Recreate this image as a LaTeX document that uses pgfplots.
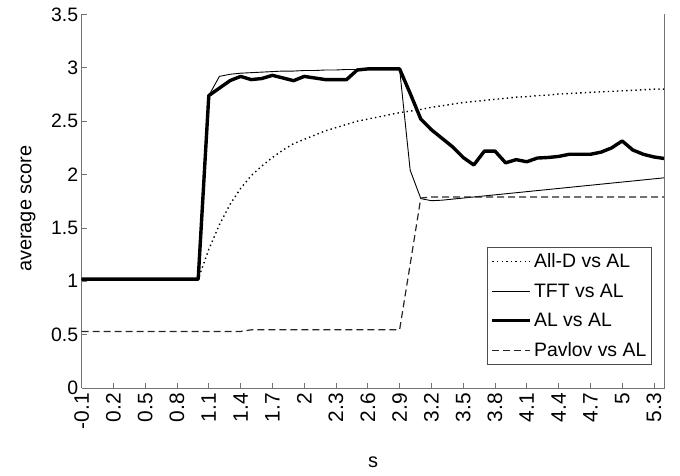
\documentclass[border=0pt]{standalone}
\usepackage{fontspec}
\setmainfont{Liberation Sans}
\usepackage{pgfplots}
\pgfplotsset{compat=1.18}

% average score against s (steps of 0.1)
\pgfplotstableread{
s v
-0.1 1.02
0.0 1.02
0.1 1.02
0.2 1.02
0.3 1.02
0.4 1.02
0.5 1.02
0.6 1.02
0.7 1.02
0.8 1.02
0.9 1.02
1.0 1.02
1.1 1.30
1.2 1.53
1.3 1.72
1.4 1.87
1.5 1.99
1.6 2.08
1.7 2.16
1.8 2.23
1.9 2.29
2.0 2.33
2.1 2.37
2.2 2.41
2.3 2.44
2.4 2.47
2.5 2.50
2.6 2.52
2.7 2.54
2.8 2.56
2.9 2.58
3.0 2.595
3.1 2.61
3.2 2.63
3.3 2.645
3.4 2.66
3.5 2.675
3.6 2.685
3.7 2.695
3.8 2.705
3.9 2.715
4.0 2.725
4.1 2.73
4.2 2.74
4.3 2.745
4.4 2.755
4.5 2.76
4.6 2.765
4.7 2.77
4.8 2.775
4.9 2.78
5.0 2.785
5.1 2.79
5.2 2.795
5.3 2.80
5.4 2.80
}\alld

\pgfplotstableread{
s v
-0.1 1.02
0.0 1.02
0.1 1.02
0.2 1.02
0.3 1.02
0.4 1.02
0.5 1.02
0.6 1.02
0.7 1.02
0.8 1.02
0.9 1.02
1.0 1.02
1.1 2.74
1.2 2.92
1.3 2.94
1.4 2.95
1.5 2.955
1.6 2.96
1.7 2.965
1.8 2.97
1.9 2.97
2.0 2.975
2.1 2.975
2.2 2.98
2.3 2.98
2.4 2.985
2.5 2.985
2.6 2.99
2.7 2.99
2.8 2.99
2.9 2.99
3.0 2.04
3.1 1.775
3.2 1.755
3.3 1.76
3.4 1.77
3.5 1.78
3.6 1.79
3.7 1.80
3.8 1.81
3.9 1.82
4.0 1.83
4.1 1.84
4.2 1.85
4.3 1.86
4.4 1.87
4.5 1.88
4.6 1.89
4.7 1.90
4.8 1.91
4.9 1.92
5.0 1.93
5.1 1.94
5.2 1.95
5.3 1.96
5.4 1.97
}\tft

\pgfplotstableread{
s v
-0.1 1.02
0.0 1.02
0.1 1.02
0.2 1.02
0.3 1.02
0.4 1.02
0.5 1.02
0.6 1.02
0.7 1.02
0.8 1.02
0.9 1.02
1.0 1.02
1.1 2.74
1.2 2.81
1.3 2.88
1.4 2.92
1.5 2.89
1.6 2.90
1.7 2.93
1.8 2.905
1.9 2.88
2.0 2.92
2.1 2.905
2.2 2.89
2.3 2.89
2.4 2.89
2.5 2.98
2.6 2.99
2.7 2.99
2.8 2.99
2.9 2.99
3.0 2.76
3.1 2.52
3.2 2.42
3.3 2.34
3.4 2.26
3.5 2.16
3.6 2.09
3.7 2.22
3.8 2.22
3.9 2.11
4.0 2.14
4.1 2.12
4.2 2.155
4.3 2.16
4.4 2.17
4.5 2.19
4.6 2.19
4.7 2.19
4.8 2.21
4.9 2.25
5.0 2.315
5.1 2.23
5.2 2.19
5.3 2.165
5.4 2.15
}\alal

\pgfplotstableread{
s v
-0.1 0.53
0.0 0.53
0.1 0.53
0.2 0.53
0.3 0.53
0.4 0.53
0.5 0.53
0.6 0.53
0.7 0.53
0.8 0.53
0.9 0.53
1.0 0.53
1.1 0.53
1.2 0.53
1.3 0.53
1.4 0.53
1.5 0.545
1.6 0.545
1.7 0.545
1.8 0.545
1.9 0.545
2.0 0.545
2.1 0.545
2.2 0.545
2.3 0.545
2.4 0.545
2.5 0.545
2.6 0.545
2.7 0.545
2.8 0.545
2.9 0.545
3.0 1.16
3.1 1.78
3.2 1.79
3.3 1.79
3.4 1.79
3.5 1.79
3.6 1.79
3.7 1.79
3.8 1.79
3.9 1.79
4.0 1.79
4.1 1.79
4.2 1.79
4.3 1.79
4.4 1.79
4.5 1.79
4.6 1.79
4.7 1.79
4.8 1.79
4.9 1.79
5.0 1.79
5.1 1.79
5.2 1.79
5.3 1.79
5.4 1.79
}\pavlov

\begin{document}
\begin{tikzpicture}
\path[use as bounding box] (-81.6bp,-88bp) rectangle (598.4bp,388bp);
\begin{axis}[
  at={(0,0)}, anchor=south west,
  scale only axis,
  width=583bp, height=373.5bp,
  xmin=-0.1, xmax=5.4,
  ymin=0, ymax=3.5,
  axis lines*=left,
  axis line style={draw=black!55, line width=0.9bp, -},
  tick style={draw=black!55, line width=0.8bp},
  tick align=inside,
  major tick length=5.5bp,
  xtick={-0.1,0.2,0.5,0.8,1.1,1.4,1.7,2.0,2.3,2.6,2.9,3.2,3.5,3.8,4.1,4.4,4.7,5.0,5.3},
  xticklabels={-0.1,0.2,0.5,0.8,1.1,1.4,1.7,2,2.3,2.6,2.9,3.2,3.5,3.8,4.1,4.4,4.7,5,5.3},
  ytick={0,0.5,...,3.5},
  /pgf/number format/assume math mode=true,
  y tick label style={font=\fontsize{19.5}{19.5}\selectfont},
  x tick label style={font=\fontsize{21}{21}\selectfont, rotate=90, anchor=east, inner xsep=5bp},
  xlabel={s},
  ylabel={average score},
  label style={font=\fontsize{20}{20}\selectfont},
  xlabel style={at={(axis description cs:0.5,-0.198)}, anchor=center},
  ylabel style={at={(axis description cs:-0.092,0.48)}, anchor=center},
  legend style={at={(0.978,0.3775)}, anchor=north east,
    draw=black!70, line width=0.8bp, font=\fontsize{19.5}{19.5}\selectfont,
    inner xsep=3bp, inner ysep=4.5bp, row sep=10.5bp},
  legend cell align=left,
  legend image code/.code={\draw[#1] (0bp,0bp) -- (38bp,0bp);},
  clip=false,
]
\addplot[black, line width=1.4bp, dash pattern=on 1.4bp off 3.2bp] table {\alld};
\addlegendentry{All-D vs AL}
\addplot[black, line width=0.9bp] table {\tft};
\addlegendentry{TFT vs AL}
\addplot[black, line width=3.4bp, line join=round] table {\alal};
\addlegendentry{AL vs AL}
\addplot[black!85, line width=1.2bp, dash pattern=on 7bp off 4bp] table {\pavlov};
\addlegendentry{Pavlov vs AL}
\draw[black!55, line width=0.9bp] (rel axis cs:1,0) -- (rel axis cs:1,1);
\end{axis}
\end{tikzpicture}
\end{document}
